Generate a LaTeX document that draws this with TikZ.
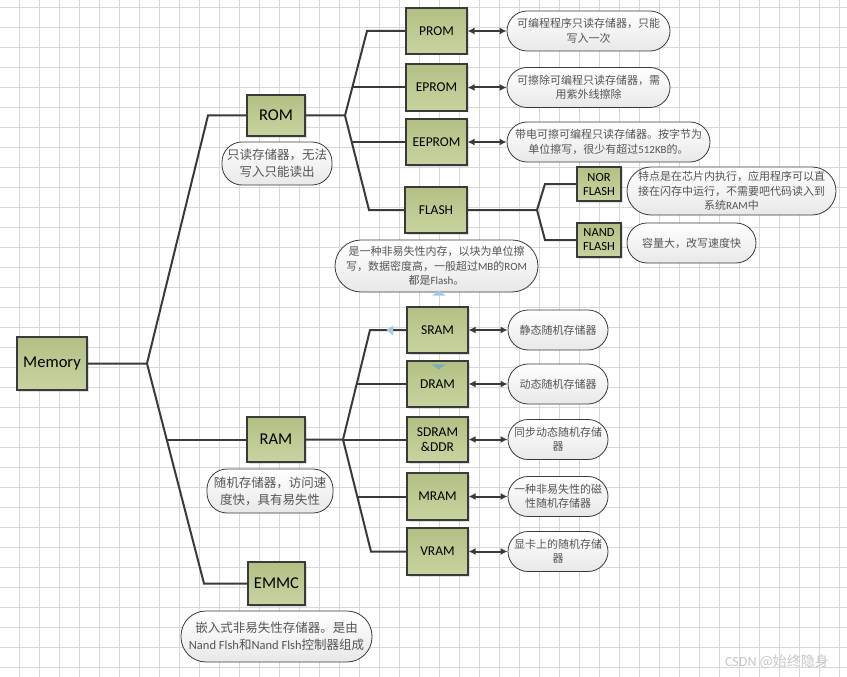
\documentclass[tikz,border=0pt]{standalone}
\usepackage{fontspec}
\setmainfont{Carlito}
\newfontfamily\cjk{Noto Sans CJK SC}
\usetikzlibrary{arrows.meta,shadows}
\definecolor{boxtop}{RGB}{178,192,132}
\definecolor{boxbot}{RGB}{200,212,160}
\definecolor{edge}{RGB}{58,58,58}
\definecolor{gridc}{RGB}{216,216,216}
\definecolor{notetext}{RGB}{85,85,85}
\definecolor{handle}{RGB}{160,202,236}
\definecolor{handlet}{RGB}{122,176,178}
\newcommand\lat[1]{{\rmfamily #1}}
\tikzset{
  box/.style={draw=edge, line width=1.1pt, top color=boxtop, bottom color=boxbot,
    inner sep=0pt, align=center, minimum width=61pt, minimum height=46pt,
    font=\fontsize{13.5}{15}\selectfont,
    drop shadow={shadow xshift=1.5pt, shadow yshift=-1.5pt, opacity=0.25}},
  topbox/.style={box, minimum width=58pt, font=\fontsize{16.5}{18}\selectfont},
  smallbox/.style={box, minimum width=44pt, minimum height=34pt, font=\fontsize{12.5}{14}\selectfont},
  note/.style={draw=edge, line width=0.8pt, top color=white, bottom color=black!9,
    rounded corners=20pt, inner sep=0pt, align=center, text=notetext,
    minimum height=40pt, font=\cjk\fontsize{11}{14.5}\selectfont},
  bignote/.style={note, font=\cjk\fontsize{12.5}{17}\selectfont},
  tree/.style={draw=edge, line width=2pt},
  biarrow/.style={draw=edge, line width=2pt, {Latex[length=7pt,width=7pt]}-{Latex[length=7pt,width=7pt]}},
}
\begin{document}
\begin{tikzpicture}[x=1pt,y=-1pt]
  \useasboundingbox (0,0) rectangle (847,677);
  \fill[white] (0,0) rectangle (847,677);
  % grid
  \foreach \gx in {19.5,39.5,...,847} \draw[gridc, line width=0.8pt] (\gx,0) -- (\gx,677);
  \foreach \gy in {7.3,27.3,...,677} \draw[gridc, line width=0.8pt] (0,\gy) -- (847,\gy);

  % level 0 and 1
  \node[topbox, minimum width=70pt, minimum height=53pt] (mem) at (52,363.5) {Memory};
  \node[topbox, minimum height=41pt] (rom) at (276,115.5) {ROM};
  \node[topbox, minimum height=45pt] (ram) at (276,439.5) {RAM};
  \node[topbox, minimum width=57pt, minimum height=43pt] (emmc) at (276.5,583.5) {EMMC};
  \node[bignote, minimum width=110pt, minimum height=43pt] (romnote) at (277,163.5)
    {只读存储器，无法\\写入只能读出};
  \node[bignote, minimum width=126pt, minimum height=44pt] (ramnote) at (270,491)
    {随机存储器，访问速\\度快，具有易失性};
  \node[bignote, minimum width=191pt, minimum height=51pt, rounded corners=25pt] (emmcnote) at (276.5,636.5)
    {嵌入式非易失性存储器。是由\\\lat{Nand Flsh}和\lat{Nand Flsh}控制器组成};

  % ROM side
  \node[box] (prom) at (436.5,31) {PROM};
  \node[box, minimum height=47pt] (eprom) at (436.5,87.5) {EPROM};
  \node[box] (eeprom) at (436.5,142) {EEPROM};
  \node[box, minimum width=62pt] (flash) at (436,210) {FLASH};
  \node[note, minimum width=203pt, minimum height=52pt, rounded corners=26pt] (flashnote) at (436.5,266)
    {是一种非易失性内存，以块为单位擦\\写，数据密度高，一般超过\lat{MB}的\lat{ROM}\\都是\lat{Flash}。};
  \node[smallbox] (nor) at (599,184) {NOR\\FLASH};
  \node[smallbox] (nand) at (599,240) {NAND\\FLASH};
  \node[note, minimum width=209pt, minimum height=48pt, rounded corners=24pt] (nornote) at (731.5,191)
    {特点是在芯片内执行，应用程序可以直\\接在闪存中运行，不需要吧代码读入到\\系统\lat{RAM}中};
  \node[note, minimum width=129pt] (nandnote) at (691.5,243) {容量大，改写速度快};
  \node[note, minimum width=163pt] (promnote) at (588.5,31) {可编程程序只读存储器，只能\\写入一次};
  \node[note, minimum width=163pt] (epromnote) at (588.5,87.5) {可擦除可编程只读存储器，需\\用紫外线擦除};
  \node[note, minimum width=203pt] (eepromnote) at (608.5,142)
    {带电可擦可编程只读存储器。按字节为\\单位擦写，很少有超过\lat{512KB}的。};

  % RAM side
  \node[box] (sram) at (437.5,330) {SRAM};
  \node[box] (dram) at (437.5,384) {DRAM};
  \node[box, minimum height=45pt] (sdram) at (437.5,439.5) {SDRAM\\\&DDR};
  \node[box, minimum height=47pt] (mram) at (437.5,496.5) {MRAM};
  \node[box, minimum height=47pt] (vram) at (437.5,551.5) {VRAM};
  \node[note, minimum width=100pt] (sramnote) at (558,330) {静态随机存储器};
  \node[note, minimum width=100pt] (dramnote) at (558,384) {动态随机存储器};
  \node[note, minimum width=100pt] (sdramnote) at (558,439.5) {同步动态随机存储\\器};
  \node[note, minimum width=100pt] (mramnote) at (558,496.5) {一种非易失性的磁\\性随机存储器};
  \node[note, minimum width=100pt] (vramnote) at (558,551.5) {显卡上的随机存储\\器};

  % joints
  \coordinate (memj) at (147,363.5);
  \coordinate (romc) at (208,115.5);
  \coordinate (ramc) at (166.7,439.5);
  \coordinate (emmcc) at (204,583.5);
  \coordinate (romj) at (345,115.5);
  \coordinate (promc) at (367,31);
  \coordinate (epromc) at (352.3,87.5);
  \coordinate (eepromc) at (351.7,142);
  \coordinate (flashc) at (369,210);
  \coordinate (flashj) at (537,210);
  \coordinate (norc) at (545,184);
  \coordinate (nandc) at (545,240);
  \coordinate (ramj) at (343,439.5);
  \coordinate (sramc) at (370,330);
  \coordinate (dramc) at (356.7,384);
  \coordinate (mramc) at (357.3,496.5);
  \coordinate (vramc) at (371,551.5);

  % tree lines
  \draw[tree] (mem) -- (memj) -- (romc) -- (rom);
  \draw[tree] (memj) -- (emmcc) -- (emmc);
  \draw[tree] (ramc) -- (ram);
  \draw[tree] (rom) -- (romj) -- (promc) -- (prom);
  \draw[tree] (epromc) -- (eprom);
  \draw[tree] (romj) -- (flashc) -- (flash);
  \draw[tree] (eepromc) -- (eeprom);
  \draw[tree] (flash) -- (flashj) -- (norc) -- (nor);
  \draw[tree] (flashj) -- (nandc) -- (nand);
  \draw[tree] (ram) -- (ramj) -- (sramc) -- (sram);
  \draw[tree] (dramc) -- (dram);
  \draw[tree] (ramj) -- (sdram);
  \draw[tree] (ramj) -- (vramc) -- (vram);
  \draw[tree] (mramc) -- (mram);

  % arrows to notes
  \draw[biarrow] (prom) -- (promnote);
  \draw[biarrow] (eprom) -- (epromnote);
  \draw[biarrow] (eeprom) -- (eepromnote);
  \draw[biarrow] (sram) -- (sramnote);
  \draw[biarrow] (dram) -- (dramnote);
  \draw[biarrow] (sdram) -- (sdramnote);
  \draw[biarrow] (mram) -- (mramnote);
  \draw[biarrow] (vram) -- (vramnote);

  % handles
  \fill[handle] (386.5,330) -- (393,325.5) -- (393,335.5) -- cycle;
  \fill[handlet] (438.7,369.5) -- (431.7,364.3) -- (445.7,364.3) -- cycle;
  \fill[handle] (439,290.7) -- (432.3,295.5) -- (445.7,295.5) -- cycle;

  % watermark
  \node[text=black!22, font=\fontsize{14}{16}\selectfont] (mark) at (777,662) {CSDN \cjk @始终隐身};
\end{tikzpicture}
\end{document}
